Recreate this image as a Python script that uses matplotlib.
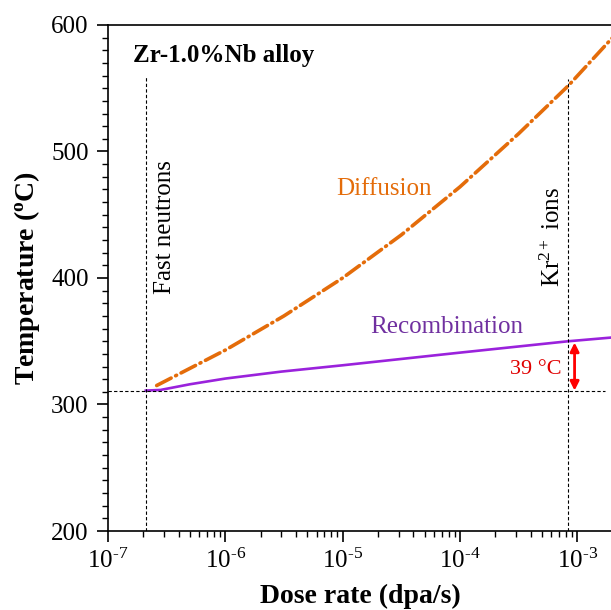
import matplotlib
matplotlib.use("Agg")
import matplotlib.pyplot as plt
from matplotlib.ticker import MultipleLocator, LogLocator, NullFormatter, FuncFormatter
import numpy as np

plt.rcParams['font.family'] = ['Liberation Serif', 'DejaVu Serif']
plt.rcParams['mathtext.fontset'] = 'custom'
plt.rcParams['mathtext.rm'] = 'Liberation Serif'
plt.rcParams['mathtext.it'] = 'Liberation Serif:italic'
plt.rcParams['mathtext.bf'] = 'Liberation Serif:bold'

# Diffusion-limited temperature vs dose rate
diff_rate = [2.6e-7, 1e-6, 3.16e-6, 1e-5, 3.16e-5, 1e-4, 3.16e-4, 8.4e-4, 2e-3]
diff_temp = [315, 343, 370, 400, 434, 472, 514, 552, 590]

# Recombination-limited temperature vs dose rate
rec_rate = [2.1e-7, 2.8e-7, 5e-7, 1e-6, 3e-6, 1e-5, 1e-4, 8.4e-4, 2e-3]
rec_temp = [311, 311.5, 316, 320.5, 326, 331, 341, 350, 353]

fast_neutrons = 2.1e-7
kr_ions = 8.4e-4
t_ref = 311
t_kr = 350

orange = '#E46C0A'
purple = '#9A22DC'

fig = plt.figure(figsize=(6.11, 6.10), dpi=100)
ax = fig.add_axes([108/611, 79/610, 504.5/611, 506/610])

ax.plot(diff_rate, diff_temp, color=orange, lw=2.6,
        linestyle=(0, (4.5, 1.4, 0.3, 1.4)), dash_capstyle='round')
ax.plot(rec_rate, rec_temp, color=purple, lw=1.9)

ax.plot([fast_neutrons, fast_neutrons], [200, 559], color='black', lw=0.8, linestyle=(0, (3, 2)))
ax.plot([kr_ions, kr_ions], [200, 557], color='black', lw=0.8, linestyle=(0, (3, 2)))
ax.plot([1e-7, 1.73e-3], [t_ref, t_ref], color='black', lw=0.8, linestyle=(0, (3, 2)))

ax.annotate('', xy=(9.5e-4, t_ref), xytext=(9.5e-4, t_kr - 1),
            arrowprops=dict(arrowstyle='<|-|>', color='red', lw=2, mutation_scale=13,
                            shrinkA=0, shrinkB=0))

ax.text(1.63e-7, 576, 'Zr-1.0%Nb alloy', fontsize=18, fontweight='bold', va='center', ha='left')
ax.text(3.06e-7, 440, 'Fast neutrons', fontsize=18, rotation=90, va='center', ha='center')
ax.text(6.2e-4, 432, r'Kr$^{2+}$ ions', fontsize=18, rotation=90, va='center', ha='center')
ax.text(2.25e-5, 470, 'Diffusion', fontsize=18, color=orange, va='center', ha='center')
ax.text(7.7e-5, 361, 'Recombination', fontsize=18, color='#7030A0', va='center', ha='center')
ax.text(4.4e-4, 328, '39 \u00b0C', fontsize=16, color='#E00000', va='center', ha='center')

ax.set_xscale('log')
ax.set_xlim(1e-7, 2e-3)
ax.set_ylim(200, 600)
ax.yaxis.set_major_locator(MultipleLocator(100))
ax.yaxis.set_minor_locator(MultipleLocator(10))
ax.xaxis.set_major_locator(LogLocator(base=10))
ax.xaxis.set_minor_locator(LogLocator(base=10, subs=range(2, 10)))
ax.xaxis.set_minor_formatter(NullFormatter())
ax.xaxis.set_major_formatter(FuncFormatter(
    lambda v, p: r'$10^{\text{-}%d}$' % round(-np.log10(v))))

ax.tick_params(which='major', direction='out', length=8, width=1.2, labelsize=18)
ax.tick_params(which='minor', direction='out', length=4.5, width=1.0)
ax.tick_params(axis='x', pad=5)
ax.tick_params(axis='y', pad=6)
for s in ['left', 'bottom', 'top']:
    ax.spines[s].set_linewidth(1.2)
ax.spines['right'].set_visible(False)

ax.set_xlabel('Dose rate (dpa/s)', fontsize=20, fontweight='bold')
ax.set_ylabel(r'Temperature ($\mathbf{^{o}}$C)', fontsize=20, fontweight='bold')
ax.xaxis.set_label_coords((360 - 108) / 504.5, -0.105)
ax.yaxis.set_label_coords(-0.131, 0.5)

fig.savefig('out.png', dpi=100)
